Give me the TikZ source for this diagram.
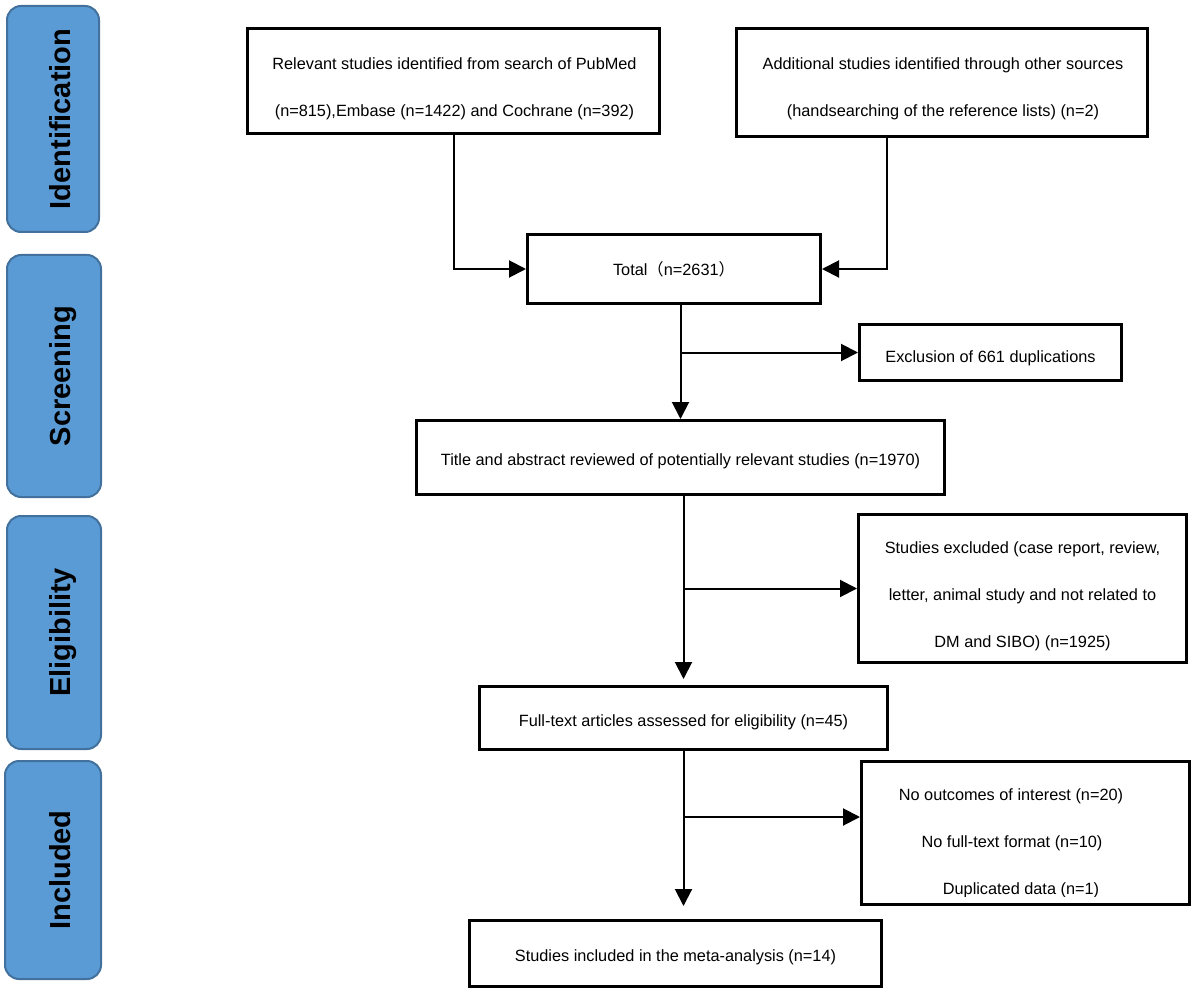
\documentclass[tikz,border=0pt]{standalone}
\usepackage{fontspec}
\setmainfont{Liberation Sans}
\newfontfamily\cjk{Noto Sans CJK SC}
\usetikzlibrary{arrows.meta,calc}
\definecolor{stageblue}{HTML}{5B9BD5}
\definecolor{stageedge}{HTML}{41719C}
\begin{document}
\begin{tikzpicture}[x=1pt,y=-1pt,
  stagebox/.style={draw=stageedge, fill=stageblue, line width=2pt, rounded corners=14pt, inner sep=0pt},
  stagetext/.style={rotate=90, anchor=base, font=\fontsize{29}{29}\selectfont\bfseries, inner sep=0pt},
  flowbox/.style={draw=black, line width=3pt, inner sep=0pt},
  boxtext/.style={inner sep=0pt, align=center, font=\fontsize{16.3}{47}\selectfont},
  linetext/.style={anchor=base, inner sep=0pt, font=\fontsize{16.3}{18}\selectfont},
  arr/.style={line width=2pt, -{Triangle[length=17pt,width=17pt]}}
]
\useasboundingbox (0,0) rectangle (1200,995);
% stage boxes
\node[stagebox, minimum width=92pt, minimum height=226pt] (sid) at (53,119) {};
\node[stagetext] (tid) at (70,119) {Identification};
\node[stagebox, minimum width=94pt, minimum height=242pt] (ssc) at (54,376) {};
\node[stagetext] (tsc) at (70,376) {Screening};
\node[stagebox, minimum width=94pt, minimum height=233pt] (sel) at (54,632.5) {};
\node[stagetext] (tel) at (70,632.5) {Eligibility};
\node[stagebox, minimum width=96pt, minimum height=218pt] (sin) at (53,870) {};
\node[stagetext] (tin) at (70,870) {Included};
% flow boxes
\node[flowbox, minimum width=412pt, minimum height=105pt] (b1) at (453.5,81) {};
\node[boxtext] (b1t) at (454.5,89)
  {Relevant studies identified from search of PubMed\\(n=815),Embase (n=1422) and Cochrane (n=392)};
\node[flowbox, minimum width=411pt, minimum height=108pt] (b2) at (942,82.5) {};
\node[boxtext] (b2t) at (943,89)
  {Additional studies identified through other sources\\(handsearching of the reference lists) (n=2)};
\node[flowbox, minimum width=293pt, minimum height=69pt] (total) at (674,269) {};
\node[boxtext] (totalt) at (674,269) {Total{\cjk （}n=2631{\cjk ）}};
\node[flowbox, minimum width=262pt, minimum height=56pt] (excl) at (990.5,352.5) {};
\node[boxtext] (exclt) at (990.5,358) {Exclusion of 661 duplications};
\node[flowbox, minimum width=528pt, minimum height=74pt] (title) at (680.5,457.5) {};
\node[boxtext] (titlet) at (680.5,461)
  {Title and abstract reviewed of potentially relevant studies (n=1970)};
\node[flowbox, minimum width=328pt, minimum height=148pt] (excluded) at (1022.5,588.5) {};
\node[boxtext] (excludedt) at (1022.5,596)
  {Studies excluded (case report, review,\\letter, animal study and not related to\\DM and SIBO) (n=1925)};
\node[flowbox, minimum width=408pt, minimum height=63pt] (fulltext) at (683.5,718) {};
\node[boxtext] (fulltextt) at (683.5,722) {Full-text articles assessed for eligibility (n=45)};
\node[flowbox, minimum width=328pt, minimum height=143pt] (noout) at (1025.5,833) {};
\begin{scope}
  \clip (860,760) rectangle (1191,896);
  \node[linetext] (n1) at (1011,800) {No outcomes of interest (n=20)};
  \node[linetext] (n2) at (1012,847) {No full-text format (n=10)};
  \node[linetext] (n3) at (1021,894) {Duplicated data (n=1)};
\end{scope}
\node[flowbox, minimum width=412pt, minimum height=66pt] (included) at (675.5,953.5) {};
\node[boxtext] (includedt) at (675.5,957) {Studies included in the meta-analysis (n=14)};
% connectors
\draw[arr] (b1.south) |- (total.west);
\draw[arr] ([xshift=-55pt]b2.south) |- (total.east);
\draw[arr] (total.south -| title.north) -- (title.north);
\draw[arr] (excl.west -| title.north) -- (excl.west);
\draw[arr, shorten >=6pt] (title.south -| fulltext.north) -- (fulltext.north);
\draw[arr] (excluded.west -| fulltext.north) -- (excluded.west);
\draw[arr, shorten >=13pt] (fulltext.south) -- (fulltext.south |- included.north);
\coordinate (j3) at ($(fulltext.south)+(0,66)$);
\draw[arr] (j3) -- (j3 -| noout.west);
\end{tikzpicture}
\end{document}
